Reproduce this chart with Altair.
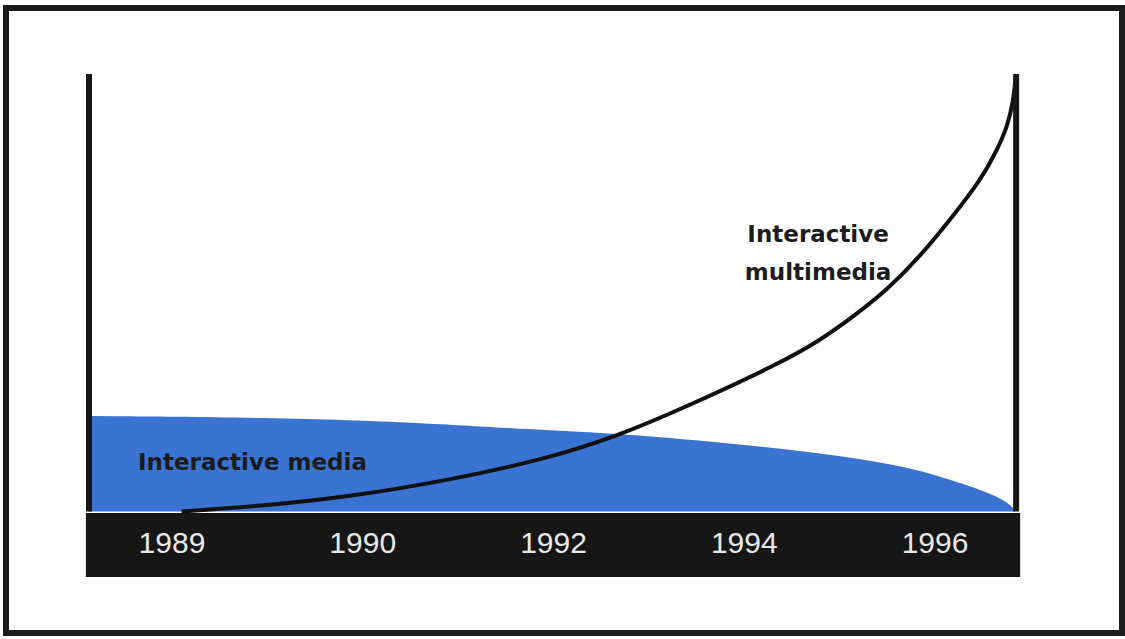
import altair as alt
import pandas as pd

# Time axis positions (one unit per labelled year) and growth index values
curve_t = [0.05, 0.41, 0.93, 1.46, 1.98, 2.35, 2.66, 3.19, 3.40, 3.57, 3.75, 3.92, 4.09, 4.24, 4.325, 4.378, 4.409, 4.425]
curve_v = [0.0, 1.0, 3.3, 7.2, 12.2, 17.5, 23.2, 33.9, 39.2, 44.5, 50.7, 58.2, 67.3, 75.8, 82.6, 87.9, 93.4, 100.0]

media_t = [-0.44, 0.50, 1.35, 1.72, 2.33, 3.03, 3.55, 3.90, 4.08, 4.25, 4.34, 4.38, 4.41, 4.42]
media_v = [21.8, 21.5, 20.2, 19.1, 17.9, 15.2, 12.5, 9.7, 7.2, 4.8, 3.0, 1.9, 0.8, 0.0]

year_labels = ["1989", "1990", "1992", "1994", "1996"]
year_pos = [0, 1, 2, 3, 4]

# Extents of the schematic axes, in data units
AXIS_LEFT, AXIS_RIGHT, AXIS_TOP = -0.435, 4.425, 100
BAND_LEFT, BAND_RIGHT, BAND_BOTTOM, BAND_TOP = -0.451, 4.446, -15.0, -0.35

X_DOMAIN = [-0.870, 4.980]
Y_DOMAIN = [-27.8, 115.1]

xs = alt.Scale(domain=X_DOMAIN, nice=False, zero=False)
ys = alt.Scale(domain=Y_DOMAIN, nice=False, zero=False)

curve_df = pd.DataFrame({"t": curve_t, "v": curve_v})
media_df = pd.DataFrame({"t": media_t, "v": media_v})
years_df = pd.DataFrame({"t": year_pos, "label": year_labels})
one = pd.DataFrame({"k": [0]})

X = lambda f: alt.X(f, type="quantitative", scale=xs, axis=None)
Y = lambda f: alt.Y(f, type="quantitative", scale=ys, axis=None)

band = alt.Chart(one).mark_rect(color="#161616").encode(
    x=alt.X(datum=BAND_LEFT, scale=xs, axis=None),
    x2=alt.X2(datum=BAND_RIGHT),
    y=alt.Y(datum=BAND_BOTTOM, scale=ys, axis=None),
    y2=alt.Y2(datum=BAND_TOP),
)

media = alt.Chart(media_df).mark_area(
    color="#3a73d1", interpolate="basis", opacity=1
).encode(x=X("t"), y=Y("v"), y2=alt.Y2(datum=0))

curve = alt.Chart(curve_df).mark_line(
    color="#111111", strokeWidth=4, interpolate="basis"
).encode(x=X("t"), y=Y("v"))

axes_df = pd.DataFrame({"t": [AXIS_LEFT, AXIS_RIGHT]})
axes = alt.Chart(axes_df).mark_rule(color="#161616", strokeWidth=6, strokeCap="butt").encode(
    x=X("t"),
    y=alt.Y(datum=0, scale=ys, axis=None),
    y2=alt.Y2(datum=AXIS_TOP),
)

years = alt.Chart(years_df).mark_text(
    font="Liberation Sans", fontSize=30, color="#e8e8e8", baseline="middle", align="center"
).encode(x=X("t"), y=alt.Y(datum=-7.45, scale=ys, axis=None), text="label:N")

media_label = alt.Chart(one).mark_text(
    text="Interactive media", font="DejaVu Sans", fontWeight="bold", fontSize=23,
    color="#1c1c1c", align="left", baseline="alphabetic"
).encode(x=alt.X(datum=-0.178, scale=xs, axis=None), y=alt.Y(datum=9.5, scale=ys, axis=None))

multi_label = alt.Chart(one).mark_text(
    text=["Interactive", "multimedia"], font="DejaVu Sans", fontWeight="bold", fontSize=23,
    color="#1c1c1c", align="center", baseline="alphabetic", lineHeight=38
).encode(x=alt.X(datum=3.387, scale=xs, axis=None), y=alt.Y(datum=61.6, scale=ys, axis=None))

chart = alt.layer(band, media, curve, axes, years, media_label, multi_label).properties(
    width=1116, height=625,
    padding={"left": 6, "top": 8, "right": 3, "bottom": 6},
    autosize="none",
    background="white",
).configure_view(stroke="#1a1a1a", strokeWidth=6)

chart.save("out.html", embed_options={"renderer": "svg", "actions": False})
